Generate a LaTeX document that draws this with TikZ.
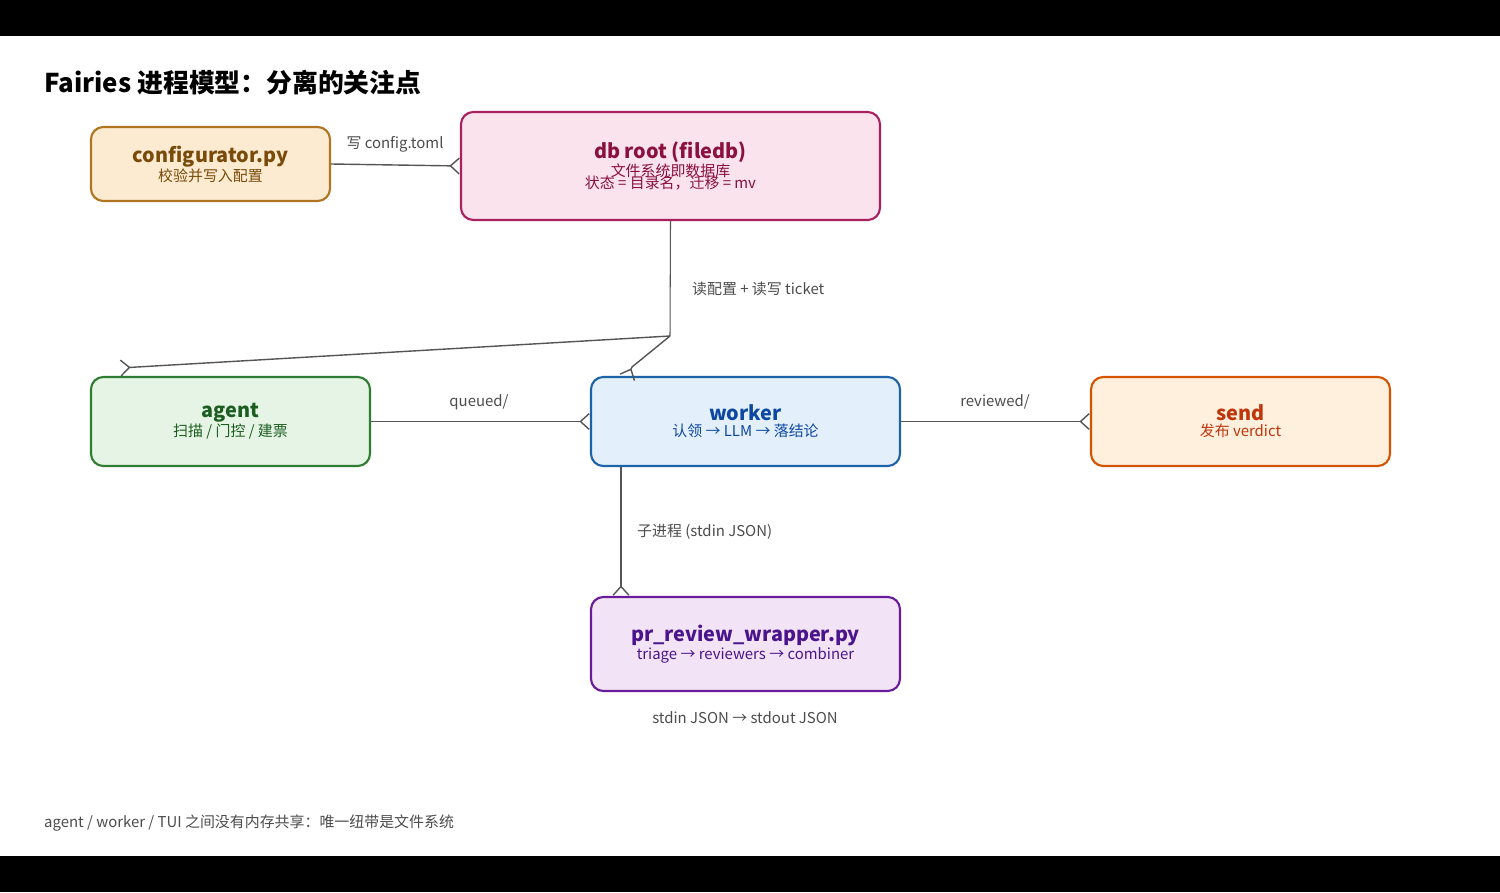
\documentclass[tikz,border=0pt]{standalone}
\usepackage{fontspec}
\setmainfont{Noto Sans CJK SC}
\usetikzlibrary{arrows.meta}
\definecolor{cfgfill}{HTML}{FCEBD0}\definecolor{cfgline}{HTML}{B07520}\definecolor{cfgtext}{HTML}{7A4A0A}
\definecolor{dbfill}{HTML}{FBE3EE}\definecolor{dbline}{HTML}{A8205E}\definecolor{dbtext}{HTML}{8A1040}
\definecolor{agfill}{HTML}{E6F4E6}\definecolor{agline}{HTML}{2E7D32}\definecolor{agtext}{HTML}{1B5E20}
\definecolor{wkfill}{HTML}{E3F0FC}\definecolor{wkline}{HTML}{1E63A8}\definecolor{wktext}{HTML}{0D47A1}
\definecolor{sdfill}{HTML}{FFF0DD}\definecolor{sdline}{HTML}{D35400}\definecolor{sdtext}{HTML}{BF360C}
\definecolor{prfill}{HTML}{F2E4F6}\definecolor{prline}{HTML}{6A1B9A}\definecolor{prtext}{HTML}{4A148C}
\definecolor{wire}{HTML}{555555}
\tikzset{
  box/.style={draw, line width=1.2pt, rounded corners=7pt, align=center, inner sep=0pt,
    font=\fontsize{8.5}{9}\selectfont},
  link/.style={draw=wire, line width=0.8pt, -{Straight Barb[reversed, length=5pt, width=9pt]}},
  lbl/.style={text=wire!90!black, font=\fontsize{8.5}{10}\selectfont},
}
\newcommand{\hd}[1]{{\fontsize{11.3}{12}\selectfont\bfseries #1}\\}
\begin{document}
\begin{tikzpicture}[x=0.02cm, y=-0.02cm]
        % Frame and bars
        \fill[white] (0,0) rectangle (1500,892);
        \fill[black] (0,0) rectangle (1500,36);
        \fill[black] (0,856) rectangle (1500,892);
        \useasboundingbox (0,0) rectangle (1500,892);

        % Title
        \node[anchor=west, font=\fontsize{14.7}{16}\selectfont\bfseries] (title) at (38,83) {Fairies 进程模型：分离的关注点};

        % Components
        \node[box, fill=cfgfill, draw=cfgline, text=cfgtext, minimum width=239*0.02cm, minimum height=74*0.02cm] (cfg) at (210.5,164) {\hd{configurator.py}校验并写入配置};
        \node[box, fill=dbfill, draw=dbline, text=dbtext, minimum width=419*0.02cm, minimum height=108*0.02cm] (db) at (670.5,166) {\hd{db root (filedb)}文件系统即数据库\\[-2pt]状态 = 目录名，迁移 = mv};
        \node[box, fill=agfill, draw=agline, text=agtext, minimum width=279*0.02cm, minimum height=89*0.02cm] (agent) at (230.5,421.5) {\hd{agent}扫描 / 门控 / 建票};
        \node[box, fill=wkfill, draw=wkline, text=wktext, minimum width=309*0.02cm, minimum height=89*0.02cm] (worker) at (745.5,421.5) {\hd{worker}认领 → LLM → 落结论};
        \node[box, fill=sdfill, draw=sdline, text=sdtext, minimum width=299*0.02cm, minimum height=89*0.02cm] (send) at (1240.5,421.5) {\hd{send}发布 verdict};
        \node[box, fill=prfill, draw=prline, text=prtext, minimum width=309*0.02cm, minimum height=94*0.02cm] (pr) at (745.5,644) {\hd{pr\_review\_wrapper.py}triage → reviewers → combiner};

        % Routing points
        \coordinate (split) at (670,336);
        \coordinate (agentend) at (120,368);
        \coordinate (workerbend) at (632,367);

        % Connectors
        \draw[link] (cfg.east) -- (db.west);
        \draw[wire, line width=0.6pt] (db.south) -- (split);
        \draw[link] (split) -- (agentend);
        \draw[link] (split) -- (workerbend) -- (627,378);
        \draw[link] (agent.east) -- (worker.west);
        \draw[link] (worker.east) -- (send.west);
        \draw[link] (worker.south -| 621,0) -- (pr.north -| 621,0);

        % Labels
        \node[lbl] (lcfg) at (395,144) {写 config.toml};
        \node[lbl, anchor=west] (ldb) at (686,289) {读配置 + 读写 ticket};
        \node[lbl] (lq) at (479,402) {queued/};
        \node[lbl] (lr) at (995,402) {reviewed/};
        \node[lbl, anchor=west] (lsub) at (631,532) {子进程 (stdin JSON)};
        \node[lbl] (lio) at (745,718) {stdin JSON → stdout JSON};
        \node[lbl, anchor=west] (foot) at (38,823) {agent / worker / TUI 之间没有内存共享：唯一纽带是文件系统};
\end{tikzpicture}
\end{document}
